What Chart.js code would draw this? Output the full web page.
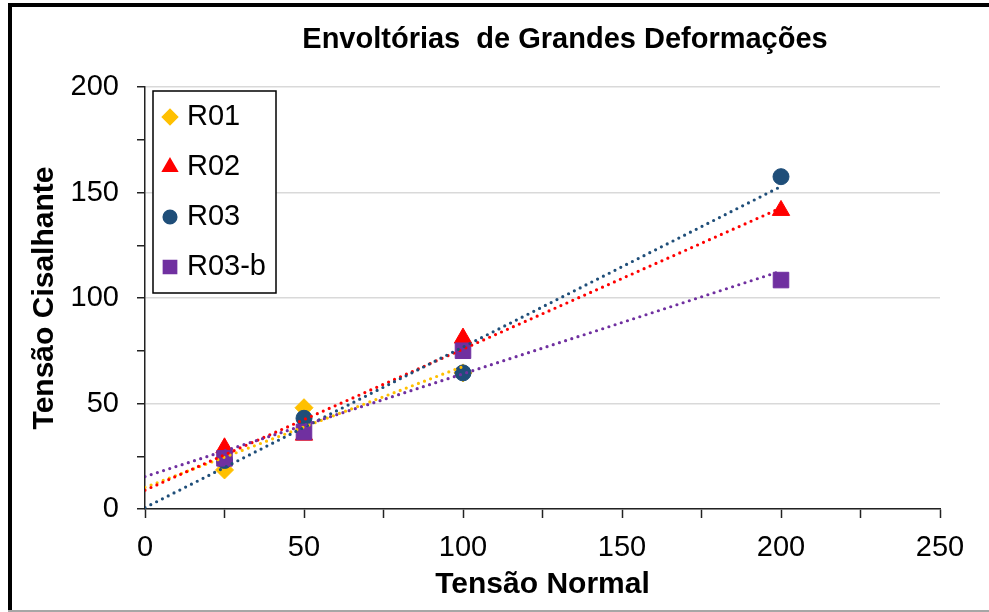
<!DOCTYPE html>
<html lang="pt">
<head>
<meta charset="utf-8">
<script src="https://cdn.jsdelivr.net/npm/chart.js@4.4.1/dist/chart.umd.min.js"></script>
<style>
  body { margin: 0; background: #fff; }
  canvas { display: block; }
</style>
</head>
<body>
<canvas id="grafico" width="989" height="612"></canvas>
<script>
const titulo = 'Envoltórias  de Grandes Deformações';
const tituloX = 'Tensão Normal';
const tituloY = 'Tensão Cisalhante';

// tensão normal de ensaio e tensões cisalhantes medidas
const tensaoNormal = [25, 50, 100, 200];
const series = ['R01', 'R02', 'R03', 'R03-b'];
const r01 = [18.5, 48, 64.5];          // R01 sem ensaio a 200
const r02 = [29, 35, 81, 141.5];
const r03 = [23, 43, 64.5, 157.5];
const r03b = [24, 36.5, 75, 108.5];
const valores = [r01, r02, r03, r03b];

const ticksX = [0, 50, 100, 150, 200, 250];
const ticksY = [0, 50, 100, 150, 200];

const cores = ['#FFC000', '#FF0000', '#1F4E79', '#7030A0'];
const marcadores = ['rectRot', 'triangle', 'circle', 'rect'];
const raios = [9, 10, 8, 11];

const fonte = "'Liberation Sans', Arial, sans-serif";

// reta de mínimos quadrados, de 0 até a última tensão ensaiada
function tendencia(ys) {
  const n = ys.length;
  const xs = tensaoNormal.slice(0, n);
  const mx = xs.reduce((a, b) => a + b) / n;
  const my = ys.reduce((a, b) => a + b) / n;
  let sxy = 0, sxx = 0;
  for (let i = 0; i < n; i++) {
    sxy += (xs[i] - mx) * (ys[i] - my);
    sxx += (xs[i] - mx) ** 2;
  }
  const a = sxy / sxx, b = my - a * mx;
  const xf = xs[n - 1];
  return [{ x: 0, y: b }, { x: xf, y: b + a * xf }];
}

const pontos = valores.map((ys, i) => ({
  label: series[i],
  data: ys.map((y, k) => ({ x: tensaoNormal[k], y: y })),
  showLine: false,
  pointStyle: marcadores[i],
  pointRadius: raios[i],
  pointBackgroundColor: cores[i],
  pointBorderColor: cores[i],
  pointBorderWidth: 1,
  order: 14 - i
}));

const retas = valores.map((ys, i) => ({
  label: series[i] + ' tendência',
  data: tendencia(ys),
  showLine: true,
  pointRadius: 0,
  borderColor: cores[i],
  borderWidth: 3.2,
  borderDash: [0, 6.5],
  borderCapStyle: 'round',
  order: 3 - i
}));

// fundo branco e moldura
const moldura = {
  id: 'moldura',
  beforeDraw(chart) {
    const ctx = chart.ctx;
    ctx.save();
    ctx.fillStyle = '#fff';
    ctx.fillRect(0, 0, chart.width, chart.height);
    ctx.restore();
  },
  afterDraw(chart) {
    const ctx = chart.ctx;
    ctx.save();
    ctx.fillStyle = '#000';
    ctx.fillRect(8, 4, 4, chart.height - 4);
    ctx.fillRect(8, 3, chart.width - 8, 4);
    ctx.fillStyle = '#a6a6a6';
    ctx.fillRect(8, chart.height - 2, chart.width - 8, 2);
    ctx.restore();
  }
};

// título acima da área de plotagem
const tituloPlugin = {
  id: 'titulo',
  afterDraw(chart) {
    const ctx = chart.ctx;
    ctx.save();
    ctx.font = 'bold 29px ' + fonte;
    ctx.fillStyle = '#000';
    ctx.textAlign = 'center';
    ctx.textBaseline = 'middle';
    ctx.fillText(titulo, 565, 40);
    ctx.restore();
  }
};

// legenda com caixa dentro da área de plotagem
const legenda = {
  id: 'legenda',
  afterDatasetsDraw(chart) {
    const ctx = chart.ctx;
    const x0 = 153, y0 = 91, w = 123, h = 202;
    ctx.save();
    ctx.fillStyle = '#fff';
    ctx.fillRect(x0, y0, w, h);
    ctx.strokeStyle = '#000';
    ctx.lineWidth = 1.5;
    ctx.strokeRect(x0, y0, w, h);
    ctx.font = '29px ' + fonte;
    ctx.textBaseline = 'middle';
    series.forEach((nome, i) => {
      const y = y0 + 26 + i * 50;
      ctx.fillStyle = cores[i];
      ctx.strokeStyle = cores[i];
      Chart.helpers.drawPoint(ctx, {
        pointStyle: marcadores[i],
        radius: raios[i] * 0.85,
        rotation: 0,
        borderWidth: 1
      }, 170, y);
      ctx.fillStyle = '#000';
      ctx.fillText(nome, 187, y);
    });
    ctx.restore();
  }
};

const grade = '#d9d9d9';

new Chart(document.getElementById('grafico'), {
  type: 'scatter',
  data: { datasets: [...pontos, ...retas] },
  plugins: [moldura, tituloPlugin, legenda],
  options: {
    responsive: false,
    animation: false,
    layout: { padding: { top: 87, left: 4, right: 49, bottom: 0 } },
    plugins: {
      legend: { display: false },
      title: { display: false },
      tooltip: { enabled: false }
    },
    scales: {
      x: {
        type: 'linear',
        min: ticksX[0],
        max: ticksX[ticksX.length - 1],
        afterFit: s => { s.height = 103; },
        afterBuildTicks: s => {
          s.ticks = [];
          for (let v = ticksX[0]; v <= ticksX[ticksX.length - 1]; v += 25) s.ticks.push({ value: v });
        },
        ticks: {
          autoSkip: false,
          maxRotation: 0,
          padding: 13,
          color: '#000',
          font: { family: fonte, size: 29 },
          callback: v => ticksX.includes(v) ? v : ''
        },
        grid: {
          drawOnChartArea: false,
          tickLength: 9,
          tickColor: '#222',
          tickWidth: 1.5
        },
        border: { color: '#222', width: 1.5 },
        title: {
          display: true,
          text: tituloX,
          color: '#000',
          font: { family: fonte, size: 30, weight: 'bold', lineHeight: 1.2 },
          padding: { top: 0, bottom: 9 }
        }
      },
      y: {
        type: 'linear',
        min: ticksY[0],
        max: ticksY[ticksY.length - 1],
        afterFit: s => { s.width = 141; },
        afterBuildTicks: s => {
          s.ticks = [];
          for (let v = ticksY[0]; v <= ticksY[ticksY.length - 1]; v += 25) s.ticks.push({ value: v });
        },
        ticks: {
          autoSkip: false,
          padding: 18,
          color: '#000',
          font: { family: fonte, size: 29 },
          callback: v => ticksY.includes(v) ? v : ''
        },
        grid: {
          color: c => (c.tick && ticksY.includes(c.tick.value)) ? grade : 'rgba(0,0,0,0)',
          lineWidth: 1.5,
          tickLength: 8,
          tickColor: '#222',
          tickWidth: 1.5
        },
        border: { color: '#222', width: 1.5 },
        title: {
          display: true,
          text: tituloY,
          color: '#000',
          font: { family: fonte, size: 30, weight: 'bold', lineHeight: 1.2 },
          padding: { top: 23, bottom: 0 }
        }
      }
    }
  }
});
</script>
</body>
</html>
